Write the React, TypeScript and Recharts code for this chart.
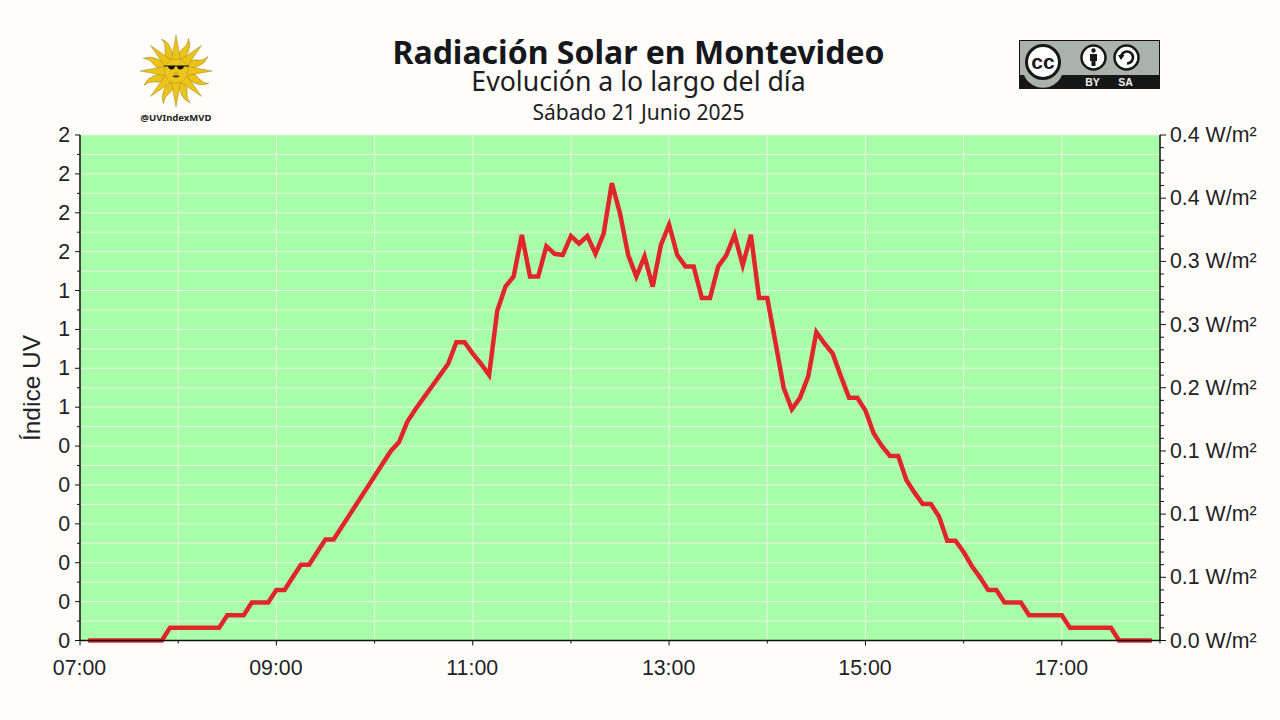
import React from 'react';
import { LineChart, Line, XAxis, YAxis, CartesianGrid } from 'recharts';

const times = [
  '07:05', '07:10', '07:15', '07:20', '07:25', '07:30', '07:35', '07:40', '07:45', '07:50', '07:55',
  '08:00', '08:05', '08:10', '08:15', '08:20', '08:25', '08:30', '08:35', '08:40', '08:45', '08:50', '08:55',
  '09:00', '09:05', '09:10', '09:15', '09:20', '09:25', '09:30', '09:35', '09:40', '09:45', '09:50', '09:55',
  '10:00', '10:05', '10:10', '10:15', '10:20', '10:25', '10:30', '10:35', '10:40', '10:45', '10:50', '10:55',
  '11:00', '11:05', '11:10', '11:15', '11:20', '11:25', '11:30', '11:35', '11:40', '11:45', '11:50', '11:55',
  '12:00', '12:05', '12:10', '12:15', '12:20', '12:25', '12:30', '12:35', '12:40', '12:45', '12:50', '12:55',
  '13:00', '13:05', '13:10', '13:15', '13:20', '13:25', '13:30', '13:35', '13:40', '13:45', '13:50', '13:55',
  '14:00', '14:05', '14:10', '14:15', '14:20', '14:25', '14:30', '14:35', '14:40', '14:45', '14:50', '14:55',
  '15:00', '15:05', '15:10', '15:15', '15:20', '15:25', '15:30', '15:35', '15:40', '15:45', '15:50', '15:55',
  '16:00', '16:05', '16:10', '16:15', '16:20', '16:25', '16:30', '16:35', '16:40', '16:45', '16:50', '16:55',
  '17:00', '17:05', '17:10', '17:15', '17:20', '17:25', '17:30', '17:35', '17:40', '17:45', '17:50', '17:55',
];

// W/m2, una lectura cada 5 minutos
const radiacion = [
  0, 0, 0, 0, 0, 0, 0, 0, 0, 0, 0.01,
  0.01, 0.01, 0.01, 0.01, 0.01, 0.01, 0.02, 0.02, 0.02, 0.03, 0.03, 0.03,
  0.04, 0.04, 0.05, 0.06, 0.06, 0.07, 0.08, 0.08, 0.09, 0.1, 0.11, 0.12,
  0.13, 0.14, 0.15, 0.157, 0.173, 0.183, 0.192, 0.201, 0.21, 0.219, 0.236, 0.236,
  0.227, 0.219, 0.21, 0.261, 0.28, 0.288, 0.321, 0.288, 0.288, 0.312, 0.306, 0.305,
  0.32, 0.314, 0.32, 0.306, 0.322, 0.362, 0.338, 0.305, 0.288, 0.304, 0.28, 0.313,
  0.329, 0.305, 0.296, 0.296, 0.271, 0.271, 0.296, 0.305, 0.321, 0.297, 0.321, 0.271,
  0.271, 0.236, 0.2, 0.183, 0.192, 0.209, 0.244, 0.235, 0.227, 0.209, 0.192, 0.192,
  0.182, 0.164, 0.154, 0.146, 0.146, 0.127, 0.117, 0.108, 0.108, 0.098, 0.079, 0.079,
  0.07, 0.059, 0.05, 0.04, 0.04, 0.03, 0.03, 0.03, 0.02, 0.02, 0.02, 0.02,
  0.02, 0.01, 0.01, 0.01, 0.01, 0.01, 0.01, 0, 0, 0, 0, 0,
];

const horaTicks = [420, 480, 540, 600, 660, 720, 780, 840, 900, 960, 1020, 1080];
const horaLabels = ['07:00', '', '09:00', '', '11:00', '', '13:00', '', '15:00', '', '17:00', ''];

const uvTicks = [
  0, 0.075, 0.15, 0.225, 0.3, 0.375, 0.45, 0.525, 0.6, 0.675, 0.75, 0.825, 0.9, 0.975,
  1.05, 1.125, 1.2, 1.275, 1.35, 1.425, 1.5, 1.575, 1.65, 1.725, 1.8, 1.875, 1.95,
];
const uvLabels = ['0', '0', '0', '0', '0', '0', '1', '1', '1', '1', '2', '2', '2', '2'];

const wattTicks = [
  0, 0.01, 0.02, 0.03, 0.04, 0.05, 0.06, 0.07, 0.08, 0.09, 0.1, 0.11, 0.12, 0.13, 0.14, 0.15, 0.16, 0.17, 0.18, 0.19,
  0.2, 0.21, 0.22, 0.23, 0.24, 0.25, 0.26, 0.27, 0.28, 0.29, 0.3, 0.31, 0.32, 0.33, 0.34, 0.35, 0.36, 0.37, 0.38, 0.39, 0.4,
];
const wattLabels = ['0.0', '0.1', '0.1', '0.1', '0.2', '0.3', '0.3', '0.4', '0.4'];

const toMin = (t: string) => Number(t.slice(0, 2)) * 60 + Number(t.slice(3));
const data = times.map((t, i) => ({ min: toMin(t), rad: radiacion[i] }));

const INK = '#222226';
const AXIS_FONT = '"Liberation Sans", Arial, sans-serif';
const TITLE_FONT = '"Noto Sans", sans-serif';

const LeftTick = ({ x, y, index }: any) => {
  const major = index % 2 === 0;
  return (
    <g>
      <line x1={x - (major ? 5 : 3)} x2={x} y1={y} y2={y} stroke="#111" strokeWidth={1} />
      {major && (
        <text x={x - 10} y={y + 7} textAnchor="end" fontFamily={AXIS_FONT} fontSize={21.33} fill={INK}>
          {uvLabels[index / 2]}
        </text>
      )}
    </g>
  );
};

const RightTick = ({ x, y, index }: any) => {
  const major = index % 5 === 0;
  return (
    <g>
      <line x1={x} x2={x + (major ? 6 : 4)} y1={y} y2={y} stroke="#111" strokeWidth={1} />
      {major && (
        <text x={x + 10} y={y + 7} fontFamily={AXIS_FONT} fontSize={21.33} fill={INK}>
          {wattLabels[index / 5]} W/m²
        </text>
      )}
    </g>
  );
};

const BottomTick = ({ x, y, index }: any) => (
  <g>
    <line x1={x} x2={x} y1={y} y2={y + (index % 2 === 0 ? 5 : 3)} stroke="#111" strokeWidth={1} />
    <text x={x - 0.5} y={y + 34.5} textAnchor="middle" fontFamily={AXIS_FONT} fontSize={21.33} fill={INK}>
      {horaLabels[index]}
    </text>
  </g>
);

const rayAngles = [0, 45, 90, 135, 180, 225, 270, 315];

const SunLogo = () => (
  <g transform="translate(176 71)">
    {rayAngles.map((a) => (
      <path key={`w${a}`} transform={`rotate(${a + 22.5})`} d="M-4 -9 Q-5 -19 -2 -24 Q1 -29 -1 -35 Q4 -30 4 -23 Q3 -15 4 -9 Z" fill="#ecc31a" stroke="#8a7420" strokeWidth={0.4} />
    ))}
    {rayAngles.map((a) => (
      <path key={`s${a}`} transform={`rotate(${a})`} d="M-5 -9 L0 -36 L5 -9 Z" fill="#ecc31a" stroke="#8a7420" strokeWidth={0.4} />
    ))}
    <circle r={12} fill="#eec51c" stroke="#a58c22" strokeWidth={0.4} />
    <path d="M-12 -5.5 H13 V-4.5 H8 Q7 -1 3.5 -1.5 Q1.5 -2 1 -4.5 H-1 Q-1.5 -2 -4 -1.5 Q-7 -1 -8 -4.5 H-12 Z" fill="#111" />
    <path d="M-4 5 Q0 3.5 4 5 Q0 8 -4 5 Z" fill="#4a3a12" />
    <path d="M-1.5 2 Q0 3 1.5 2" stroke="#6a5618" strokeWidth={0.6} fill="none" />
  </g>
);

const CcBadge = () => (
  <g>
    <rect x={1019.5} y={40.5} width={140} height={48} fill="#aab2ab" stroke="#111" strokeWidth={1} />
    <rect x={1019} y={75} width={141} height={14} fill="#171717" />
    <path d="M1024 75 A20.5 20.5 0 0 0 1062 75 Z" fill="#aab2ab" />
    <circle cx={1043} cy={62} r={16.5} fill="#fff" stroke="#171717" strokeWidth={3} />
    <text x={1043} y={69} textAnchor="middle" fontFamily={AXIS_FONT} fontWeight={700} fontSize={21} fill="#171717">cc</text>
    <circle cx={1093.5} cy={57.5} r={12} fill="#fff" stroke="#171717" strokeWidth={2.5} />
    <circle cx={1093.5} cy={50.5} r={2.2} fill="#171717" />
    <path d="M1090 54 H1097 V61 H1095.5 V66 H1091.5 V61 H1090 Z" fill="#171717" />
    <circle cx={1126.5} cy={57.5} r={12} fill="#fff" stroke="#171717" strokeWidth={2.5} />
    <path d="M1121 57.5 A6 6 0 1 1 1127 63.5" fill="none" stroke="#171717" strokeWidth={2.6} />
    <path d="M1118 55 H1124.5 L1121 60 Z" fill="#171717" />
    <text x={1092.5} y={86} textAnchor="middle" fontFamily={AXIS_FONT} fontWeight={700} fontSize={10.5} fill="#f2f2f2">BY</text>
    <text x={1125.5} y={86} textAnchor="middle" fontFamily={AXIS_FONT} fontWeight={700} fontSize={10.5} fill="#f2f2f2">SA</text>
  </g>
);

const App: React.FC = () => (
  <div style={{ position: 'fixed', left: 0, top: 0, width: 1280, height: 720, background: '#fffdf9', overflow: 'hidden' }}>
    <LineChart width={1280} height={720} data={data} margin={{ top: 135, right: 0, bottom: 0, left: 0 }}>
      <CartesianGrid yAxisId="uv" fill="#a9ffa9" fillOpacity={1} stroke="#e6f2dc" strokeWidth={1} />
      <XAxis
        dataKey="min"
        type="number"
        domain={[420, 1080]}
        ticks={horaTicks}
        interval={0}
        height={79.5}
        tickSize={0}
        tickMargin={0}
        tick={(p: any) => <BottomTick {...p} />}
        stroke="#111"
        strokeWidth={1.5}
      />
      <YAxis
        yAxisId="uv"
        orientation="left"
        domain={[0, 1.95]}
        ticks={uvTicks}
        interval={0}
        width={80}
        tickSize={0}
        tickMargin={0}
        tick={(p: any) => <LeftTick {...p} />}
        stroke="#111"
        strokeWidth={1.5}
      />
      <YAxis
        yAxisId="watt"
        orientation="right"
        domain={[0, 0.4]}
        ticks={wattTicks}
        interval={0}
        width={120}
        tickSize={0}
        tickMargin={0}
        tick={(p: any) => <RightTick {...p} />}
        stroke="#111"
        strokeWidth={1.5}
      />
      {/* serie invisible: el eje izquierdo necesita una para dibujar sus ticks */}
      <Line yAxisId="uv" dataKey="rad" stroke="none" dot={false} activeDot={false} isAnimationActive={false} />
      <Line
        yAxisId="watt"
        dataKey="rad"
        type="linear"
        stroke="#e1262b"
        strokeWidth={4.5}
        dot={false}
        isAnimationActive={false}
      />
    </LineChart>
    <svg width={1280} height={720} style={{ position: 'absolute', left: 0, top: 0, pointerEvents: 'none' }}>
      <text x={638.5} y={64} textAnchor="middle" fontFamily={TITLE_FONT} fontWeight={700} fontSize={32} fill="#16161d">
        Radiación Solar en Montevideo
      </text>
      <text x={638.5} y={91} textAnchor="middle" fontFamily={TITLE_FONT} fontSize={26.67} fill="#1c1c22">
        Evolución a lo largo del día
      </text>
      <text x={638.5} y={120} textAnchor="middle" fontFamily={TITLE_FONT} fontSize={21} fill="#1c1c22">
        Sábado 21 Junio 2025
      </text>
      <text
        transform="translate(40 388) rotate(-90)"
        textAnchor="middle"
        fontFamily={AXIS_FONT}
        fontSize={24.5}
        fill={INK}
      >
        Índice UV
      </text>
      <SunLogo />
      <text x={176} y={121} textAnchor="middle" fontFamily={TITLE_FONT} fontWeight={700} fontSize={9.5} fill="#222">
        @UVIndexMVD
      </text>
      <CcBadge />
    </svg>
  </div>
);

export default App;
